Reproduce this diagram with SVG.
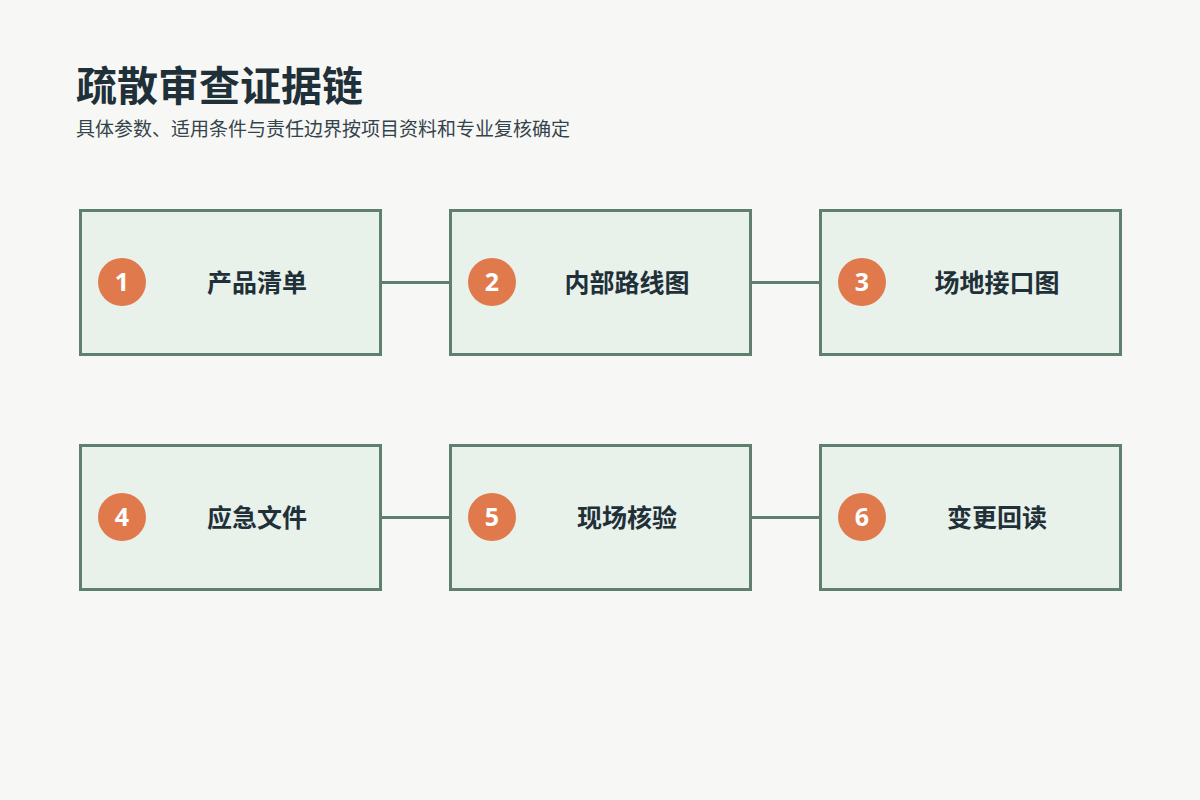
<svg xmlns="http://www.w3.org/2000/svg" width="1200" height="800" viewBox="0 0 1200 800">
<style>
.title{font-family:"Noto Sans CJK SC","Noto Sans",sans-serif;font-size:41px;font-weight:700;fill:#1f3038}
.sub{font-family:"Noto Sans CJK SC","Noto Sans",sans-serif;font-size:19px;fill:#34444b}
.box{fill:#e8f1ea;stroke:#5f7f6f;stroke-width:3}
.badge{fill:#e07a4c}
.num{font-family:"Noto Sans","Noto Sans CJK SC",sans-serif;font-size:25px;font-weight:700;fill:#ffffff;text-anchor:middle;dominant-baseline:central}
.label{font-family:"Noto Sans CJK SC","Noto Sans",sans-serif;font-size:25px;font-weight:700;fill:#1f3038;text-anchor:middle;dominant-baseline:central}
.conn{stroke:#5f7f6f;stroke-width:3;fill:none}
</style>
<rect x="0" y="0" width="1200" height="800" fill="#f7f7f5"/>
<text class="title" x="76" y="101">疏散审查证据链</text>
<text class="sub" x="76" y="136">具体参数、适用条件与责任边界按项目资料和专业复核确定</text>
<g id="connectors">
<line class="conn" x1="380" y1="282.5" x2="450" y2="282.5"/>
<line class="conn" x1="750" y1="282.5" x2="820" y2="282.5"/>
<line class="conn" x1="380" y1="517.5" x2="450" y2="517.5"/>
<line class="conn" x1="750" y1="517.5" x2="820" y2="517.5"/>
</g>
<g id="node1">
<rect class="box" x="80.5" y="210.5" width="300" height="144"/>
<circle class="badge" cx="122" cy="282" r="24"/>
<text class="num" x="122" y="281">1</text>
<text class="label" x="257" y="281">产品清单</text>
</g>
<g id="node2">
<rect class="box" x="450.5" y="210.5" width="300" height="144"/>
<circle class="badge" cx="492" cy="282" r="24"/>
<text class="num" x="492" y="281">2</text>
<text class="label" x="627" y="281">内部路线图</text>
</g>
<g id="node3">
<rect class="box" x="820.5" y="210.5" width="300" height="144"/>
<circle class="badge" cx="862" cy="282" r="24"/>
<text class="num" x="862" y="281">3</text>
<text class="label" x="997" y="281">场地接口图</text>
</g>
<g id="node4">
<rect class="box" x="80.5" y="445.5" width="300" height="144"/>
<circle class="badge" cx="122" cy="517" r="24"/>
<text class="num" x="122" y="516">4</text>
<text class="label" x="257" y="516">应急文件</text>
</g>
<g id="node5">
<rect class="box" x="450.5" y="445.5" width="300" height="144"/>
<circle class="badge" cx="492" cy="517" r="24"/>
<text class="num" x="492" y="516">5</text>
<text class="label" x="627" y="516">现场核验</text>
</g>
<g id="node6">
<rect class="box" x="820.5" y="445.5" width="300" height="144"/>
<circle class="badge" cx="862" cy="517" r="24"/>
<text class="num" x="862" y="516">6</text>
<text class="label" x="997" y="516">变更回读</text>
</g>
</svg>
